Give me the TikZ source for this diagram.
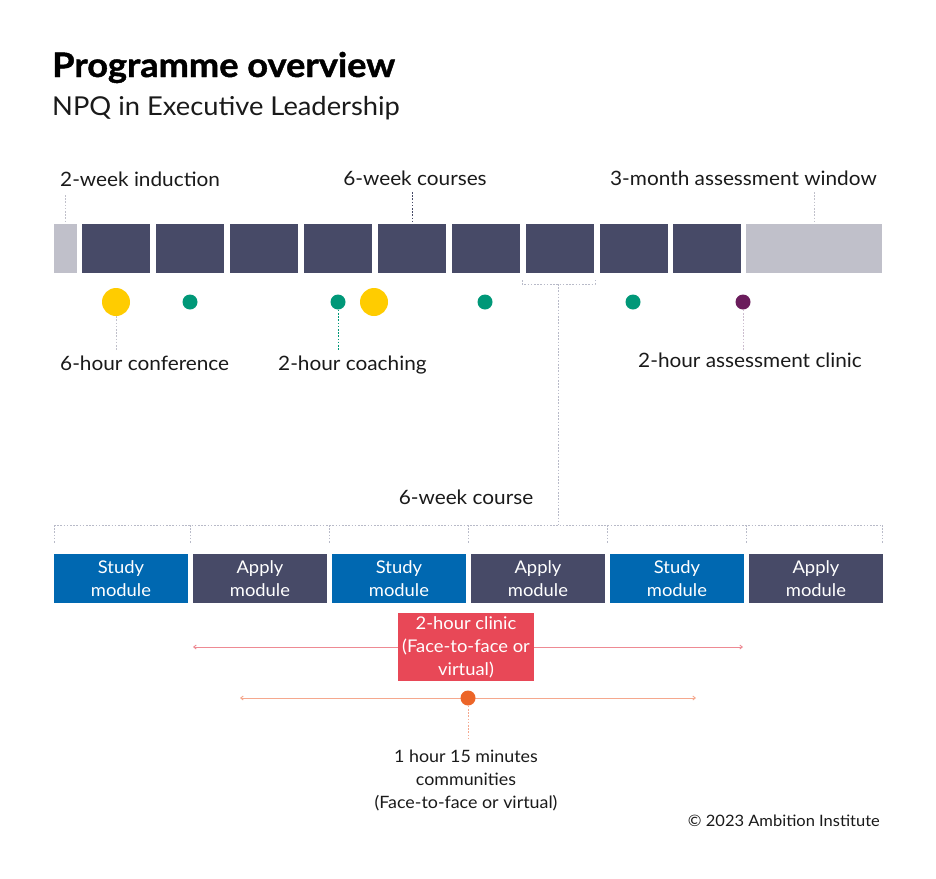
\documentclass[tikz,border=0pt]{standalone}
\usepackage{fontspec}
\setmainfont{Lato}[FakeStretch=1.05]
\newfontfamily\titlefont{Lato}[FakeStretch=1.07, BoldFeatures={FakeBold=1.3}]
\usetikzlibrary{arrows.meta}
\definecolor{navy}{HTML}{474A67}
\definecolor{lgrey}{HTML}{C0C0CA}
\definecolor{dgrey}{HTML}{B8BAC8}
\definecolor{sblue}{HTML}{0068B1}
\definecolor{cred}{HTML}{E84857}
\definecolor{lred}{HTML}{EE8A93}
\definecolor{corange}{HTML}{EC6528}
\definecolor{lorange}{HTML}{F5A88E}
\definecolor{teal}{HTML}{009878}
\definecolor{cyellow}{HTML}{FFCC00}
\definecolor{cpurple}{HTML}{6B1D5C}
\definecolor{txt}{HTML}{1A1A1A}
\tikzset{
  lbl/.style={inner sep=0pt, text=txt, font=\fontsize{19.8}{23}\selectfont},
  course/.style={fill=navy, draw=none, minimum width=68pt, minimum height=49pt, inner sep=0pt},
  module/.style={draw=none, minimum width=133.5pt, minimum height=49pt, inner sep=0pt, text=white, align=center, font=\fontsize{17.5}{23}\selectfont},
  dotline/.style={line width=0.8pt, dash pattern=on 1.6pt off 1.6pt},
  dot/.style={circle, inner sep=0pt, draw=none},
}
\begin{document}
\begin{tikzpicture}[x=1pt,y=-1pt]
\useasboundingbox (0,0) rectangle (936,878);
\fill[white] (0,0) rectangle (936,878);
% titles
\node[anchor=base west, inner sep=0pt, font=\titlefont\fontsize{33.8}{38}\selectfont\bfseries, text=black] (title) at (52,77) {Programme overview};
\node[anchor=base west, inner sep=0pt, font=\fontsize{26}{30}\selectfont, text=txt] (subtitle) at (52,115) {NPQ in Executive Leadership};
% top bar
\node[fill=lgrey, minimum width=23pt, minimum height=49pt, inner sep=0pt, anchor=north west] (ind) at (54,224) {};
\foreach \i in {0,...,8}{
  \node[course, anchor=north west] (c\i) at ({82+73.9*\i},224) {};
}
\node[fill=lgrey, minimum width=136pt, minimum height=49pt, inner sep=0pt, anchor=north west] (assess) at (746,224) {};
% top labels
\node[lbl, anchor=base west] (lind) at (60,186) {2-week induction};
\node[lbl, anchor=base] (lcourses) at (415,185) {6-week courses};
\node[lbl, anchor=base east] (lassess) at (877,185) {3-month assessment window};
\draw[dotline, lgrey] (65,195) -- (65,224);
\draw[dotline, navy] (412,192) -- (c4.north -| 412,0);
\draw[dotline, lgrey] (814,192) -- (assess.north -| 814,0);
% dots
\node[dot, fill=cyellow, minimum size=28pt] (y1) at (116,302) {};
\node[dot, fill=cyellow, minimum size=28pt] (y2) at (374,302) {};
\foreach \x/\n in {190/t1,338/t2,485/t3,633/t4}{
  \node[dot, fill=teal, minimum size=15pt] (\n) at (\x,302) {};
}
\node[dot, fill=cpurple, minimum size=15pt] (p1) at (743,302) {};
% bottom labels
\node[lbl, anchor=base west] (lconf) at (60,370) {6-hour conference};
\node[lbl, anchor=base west] (lcoach) at (278,370) {2-hour coaching};
\node[lbl, anchor=base west] (lclinic) at (638,367) {2-hour assessment clinic};
\draw[dotline, lgrey] (y1.south) -- (116,350);
\draw[dotline, teal] (t2.south) -- (338,350);
\draw[dotline, dgrey!60!cpurple!50] (p1.south) -- (743,350);
% bracket
\coordinate (bl) at (522,280);
\coordinate (br) at (595,280);
\coordinate (bm) at (558,284);
\coordinate (bb) at (558,525);
\draw[dotline, dgrey] (bl) -- (522,284) -- (595,284) -- (br);
\draw[dotline, dgrey] (bm) -- (bb);
\node[lbl, anchor=base] (lcourse) at (466,504) {6-week course};
% horizontal bracket over modules
\draw[dotline, dgrey] (54,525) -- (882,525);
\foreach \x in {54,190,329,468,607,746,882}{
  \draw[dotline, dgrey] (\x,525) -- (\x,543);
}
% modules
\node[module, fill=sblue, anchor=north west] (m1) at (54,554) {Study\\module};
\node[module, fill=navy, anchor=north west] (m2) at (193,554) {Apply\\module};
\node[module, fill=sblue, anchor=north west] (m3) at (332,554) {Study\\module};
\node[module, fill=navy, anchor=north west] (m4) at (471,554) {Apply\\module};
\node[module, fill=sblue, anchor=north west] (m5) at (610,554) {Study\\module};
\node[module, fill=navy, anchor=north west] (m6) at (749,554) {Apply\\module};
% clinic arrows
\coordinate (ra) at (193,647);
\coordinate (rb) at (743,647);
\draw[lred, line width=0.9pt, {Straight Barb[length=2.5pt,width=4pt]}-{Straight Barb[length=2.5pt,width=4pt]}] (ra) -- (rb);
\node[fill=cred, minimum width=136pt, minimum height=68pt, inner sep=0pt, text=white, align=center, font=\fontsize{17.5}{23}\selectfont] (clinic) at (466,647) {2-hour clinic\\(Face-to-face or\\virtual)};
% communities arrows
\coordinate (oa) at (240,698);
\coordinate (ob) at (696,698);
\draw[lorange, line width=0.9pt, {Straight Barb[length=2.5pt,width=4pt]}-{Straight Barb[length=2.5pt,width=4pt]}] (oa) -- (ob);
\node[dot, fill=corange, minimum size=15pt] (od) at (468,698) {};
\draw[dotline, lorange] (od.south) -- (468,740);
\node[inner sep=0pt, anchor=north, align=center, text=txt, font=\fontsize{17}{23}\selectfont] (lcomm) at (466,750) {1 hour 15 minutes\\communities\\(Face-to-face or virtual)};
\node[inner sep=0pt, anchor=base east, text=txt, font=\fontsize{15.7}{18}\selectfont] (copy) at (880,826) {© 2023 Ambition Institute};
\end{tikzpicture}
\end{document}
